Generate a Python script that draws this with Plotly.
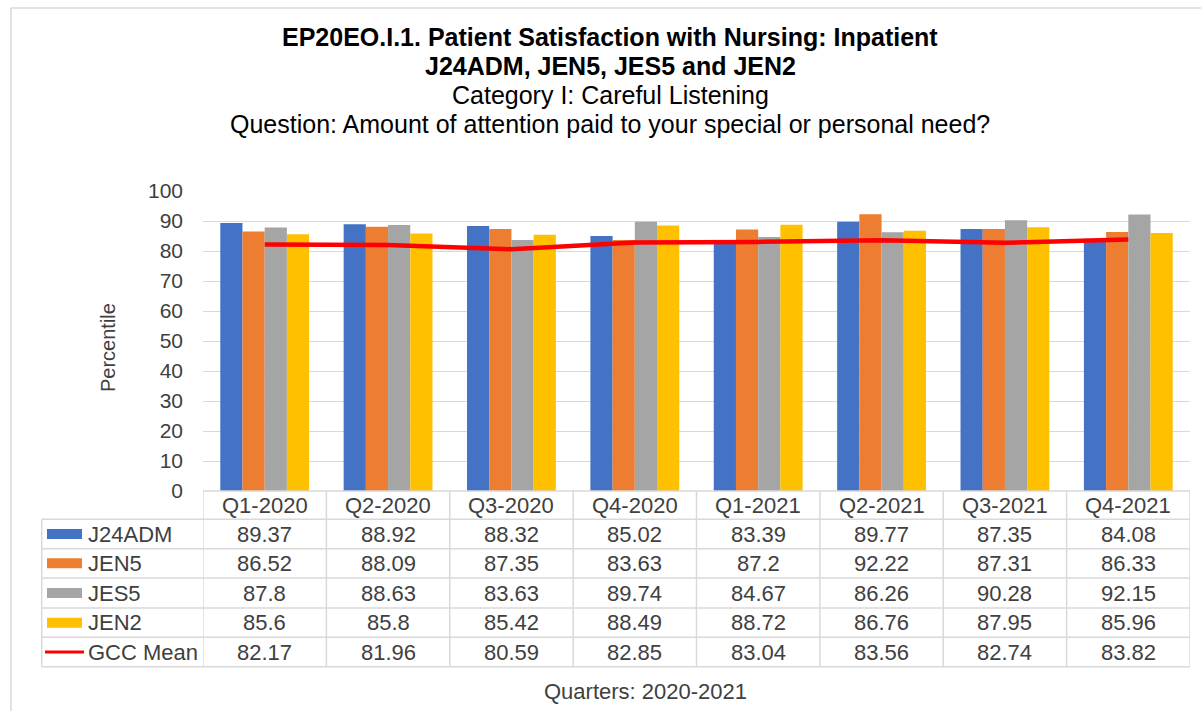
import plotly.graph_objects as go

# ---- data ----
quarters = ["Q1-2020", "Q2-2020", "Q3-2020", "Q4-2020", "Q1-2021", "Q2-2021", "Q3-2021", "Q4-2021"]
j24adm = [89.37, 88.92, 88.32, 85.02, 83.39, 89.77, 87.35, 84.08]
jen5 = [86.52, 88.09, 87.35, 83.63, 87.2, 92.22, 87.31, 86.33]
jes5 = [87.8, 88.63, 83.63, 89.74, 84.67, 86.26, 90.28, 92.15]
jen2 = [85.6, 85.8, 85.42, 88.49, 88.72, 86.76, 87.95, 85.96]
gcc_mean = [82.17, 81.96, 80.59, 82.85, 83.04, 83.56, 82.74, 83.82]

series_names = ["J24ADM", "JEN5", "JES5", "JEN2", "GCC Mean"]
series_values = [j24adm, jen5, jes5, jen2, gcc_mean]
colors = ["#4472C4", "#ED7D31", "#A5A5A5", "#FFC000", "#FF0000"]

title_lines = [
    ("<b>EP20EO.I.1. Patient Satisfaction with Nursing: Inpatient</b>", 37),
    ("<b>J24ADM, JEN5, JES5 and JEN2</b>", 66),
    ("Category I: Careful Listening", 95),
    ("Question: Amount of attention paid to your special or personal need?", 124),
]

# ---- layout geometry (pixels) ----
W, H = 1201, 711
PL, PR, PT, PB = 203, 1190, 191, 491
FONT = "Liberation Sans, Arial, sans-serif"
TXT = "#404040"
GRID = "#d9d9d9"


def px2x(px):
    return (px - PL) / (PR - PL)


def py2y(py):
    return (PB - py) / (PB - PT)


fig = go.Figure()
for name, vals, col in zip(series_names[:4], series_values[:4], colors[:4]):
    fig.add_trace(go.Bar(x=quarters, y=vals, name=name, marker=dict(color=col, line=dict(width=0))))
fig.add_trace(go.Scatter(x=quarters, y=gcc_mean, name="GCC Mean", mode="lines",
                         line=dict(color=colors[4], width=4.5)))

shapes = []
annotations = []

# title
for txt, cy in title_lines:
    annotations.append(dict(text=txt, x=px2x(610), y=py2y(cy), xref="paper", yref="paper",
                            xanchor="center", yanchor="middle", showarrow=False,
                            font=dict(family=FONT, size=25, color="#000000")))

# y axis title
annotations.append(dict(text="Percentile", x=px2x(108), y=py2y(348), xref="paper", yref="paper",
                        xanchor="center", yanchor="middle", textangle=-90, showarrow=False,
                        font=dict(family=FONT, size=20, color=TXT)))
# x axis title
annotations.append(dict(text="Quarters: 2020-2021", x=px2x(645), y=py2y(691), xref="paper", yref="paper",
                        xanchor="center", yanchor="middle", showarrow=False,
                        font=dict(family=FONT, size=22, color=TXT)))

# data table
row_lines = [491, 519.3, 548.7, 578, 608, 637.3, 666.7]
TL = 41.7
for i, ry in enumerate(row_lines):
    x0 = PL if i == 0 else TL
    shapes.append(dict(type="line", xref="paper", yref="paper", x0=px2x(x0), x1=1, y0=py2y(ry), y1=py2y(ry),
                       line=dict(color=GRID, width=1.5)))
for k in range(len(quarters) + 1):
    shapes.append(dict(type="line", xref="x", yref="paper", x0=k - 0.5, x1=k - 0.5,
                       y0=py2y(row_lines[0]), y1=py2y(row_lines[-1]), line=dict(color=GRID, width=1.5)))
shapes.append(dict(type="line", xref="paper", yref="paper", x0=px2x(TL), x1=px2x(TL),
                   y0=py2y(row_lines[1]), y1=py2y(row_lines[-1]), line=dict(color=GRID, width=1.5)))

hy = (row_lines[0] + row_lines[1]) / 2
for q in quarters:
    annotations.append(dict(text=q, x=q, y=py2y(hy), xref="x", yref="paper", xanchor="center",
                            yanchor="middle", showarrow=False, font=dict(family=FONT, size=22, color=TXT)))
for r, (name, vals, col) in enumerate(zip(series_names, series_values, colors)):
    cy = (row_lines[r + 1] + row_lines[r + 2]) / 2
    if r < 4:
        shapes.append(dict(type="rect", xref="paper", yref="paper", x0=px2x(47), x1=px2x(82),
                           y0=py2y(cy - 5), y1=py2y(cy + 5), fillcolor=col, line=dict(width=0)))
    else:
        shapes.append(dict(type="line", xref="paper", yref="paper", x0=px2x(45), x1=px2x(84),
                           y0=py2y(cy), y1=py2y(cy), line=dict(color=col, width=3)))
    annotations.append(dict(text=name, x=px2x(86), y=py2y(cy), xref="paper", yref="paper",
                            xanchor="left", yanchor="middle", showarrow=False,
                            font=dict(family=FONT, size=22, color=TXT)))
    for q, v in zip(quarters, vals):
        annotations.append(dict(text=f"{v:g}", x=q, y=py2y(cy), xref="x", yref="paper",
                                xanchor="center", yanchor="middle", showarrow=False,
                                font=dict(family=FONT, size=22, color=TXT)))

# chart border (top and left)
shapes.append(dict(type="line", xref="paper", yref="paper", x0=px2x(11), x1=px2x(1201),
                   y0=py2y(8), y1=py2y(8), line=dict(color=GRID, width=1.5)))
shapes.append(dict(type="line", xref="paper", yref="paper", x0=px2x(11), x1=px2x(11),
                   y0=py2y(8), y1=py2y(711), line=dict(color=GRID, width=1.5)))

fig.update_layout(
    width=W, height=H,
    margin=dict(l=PL, r=W - PR, t=PT, b=H - PB, pad=0),
    paper_bgcolor="white", plot_bgcolor="white",
    barmode="group", bargap=0.28, bargroupgap=0,
    showlegend=False,
    shapes=shapes, annotations=annotations,
    font=dict(family=FONT, color=TXT),
    xaxis=dict(type="category", range=[-0.5, 7.5], showticklabels=False, showgrid=False,
               zeroline=False, showline=False, ticks=""),
    yaxis=dict(range=[0, 100], dtick=10, tick0=0, showgrid=True, gridcolor=GRID, gridwidth=1,
               zeroline=False, showline=False, ticks="", ticklabelstandoff=19,
               tickfont=dict(family=FONT, size=21, color=TXT)),
)

fig.write_html("out.html", config={"displayModeBar": False},
               post_script="document.body.style.margin='0';document.body.style.overflow='hidden';")
